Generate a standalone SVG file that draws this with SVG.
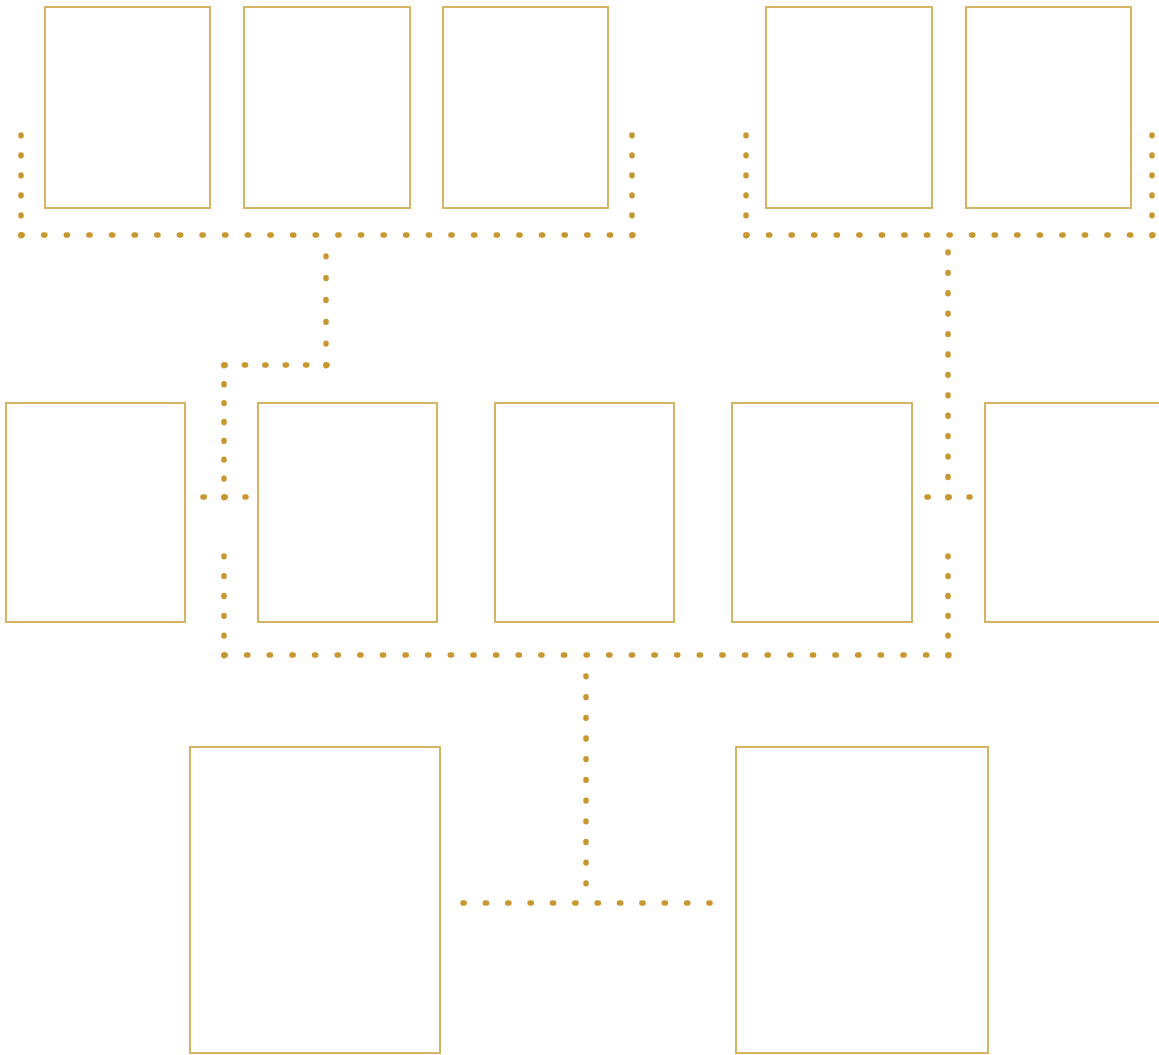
<svg xmlns="http://www.w3.org/2000/svg" width="1159" height="1055" viewBox="0 0 1159 1055">
<style>
.box{fill:#ffffff;stroke:#d6b263;stroke-width:2}
.dot{fill:none;stroke:#c8972f;stroke-width:5.5;stroke-linecap:round}
</style>
<rect width="1159" height="1055" fill="#ffffff"/>
<g id="connectors">
<line class="dot" x1="21" y1="135" x2="21" y2="236" stroke-dasharray="0.8 19.2"/>
<line class="dot" x1="21" y1="235" x2="633" y2="235" stroke-dasharray="1.2 21.43"/>
<line class="dot" x1="632" y1="135" x2="632" y2="236" stroke-dasharray="0.8 19.2"/>
<line class="dot" x1="326" y1="256" x2="326" y2="366" stroke-dasharray="0.8 21"/>
<line class="dot" x1="224" y1="365" x2="327" y2="365" stroke-dasharray="1.2 19.2"/>
<line class="dot" x1="224" y1="365" x2="224" y2="498" stroke-dasharray="0.8 18.06"/>
<line class="dot" x1="203" y1="497" x2="246" y2="497" stroke-dasharray="1.2 19.8"/>
<line class="dot" x1="746" y1="135" x2="746" y2="236" stroke-dasharray="0.8 19.2"/>
<line class="dot" x1="746" y1="235" x2="1153" y2="235" stroke-dasharray="1.2 21.36"/>
<line class="dot" x1="1152" y1="135" x2="1152" y2="236" stroke-dasharray="0.8 19.2"/>
<line class="dot" x1="948" y1="252" x2="948" y2="498" stroke-dasharray="0.8 19.62"/>
<line class="dot" x1="927" y1="497" x2="970" y2="497" stroke-dasharray="1.2 19.8"/>
<line class="dot" x1="224" y1="556" x2="224" y2="656" stroke-dasharray="0.8 19"/>
<line class="dot" x1="224" y1="655" x2="949" y2="655" stroke-dasharray="1.2 21.43"/>
<line class="dot" x1="948" y1="556" x2="948" y2="656" stroke-dasharray="0.8 19"/>
<line class="dot" x1="586" y1="676" x2="586" y2="884" stroke-dasharray="0.8 19.9"/>
<line class="dot" x1="463" y1="903" x2="710" y2="903" stroke-dasharray="1.2 21.16"/>
</g>
<g id="n1"><rect class="box" x="45" y="7" width="165" height="201"/></g>
<g id="n2"><rect class="box" x="244" y="7" width="166" height="201"/></g>
<g id="n3"><rect class="box" x="443" y="7" width="165" height="201"/></g>
<g id="n4"><rect class="box" x="766" y="7" width="166" height="201"/></g>
<g id="n5"><rect class="box" x="966" y="7" width="165" height="201"/></g>
<g id="n6"><rect class="box" x="6" y="403" width="179" height="219"/></g>
<g id="n7"><rect class="box" x="258" y="403" width="179" height="219"/></g>
<g id="n8"><rect class="box" x="495" y="403" width="179" height="219"/></g>
<g id="n9"><rect class="box" x="732" y="403" width="180" height="219"/></g>
<g id="n10"><rect class="box" x="985" y="403" width="190" height="219"/></g>
<g id="n11"><rect class="box" x="190" y="747" width="250" height="306"/></g>
<g id="n12"><rect class="box" x="736" y="747" width="252" height="306"/></g>
</svg>
